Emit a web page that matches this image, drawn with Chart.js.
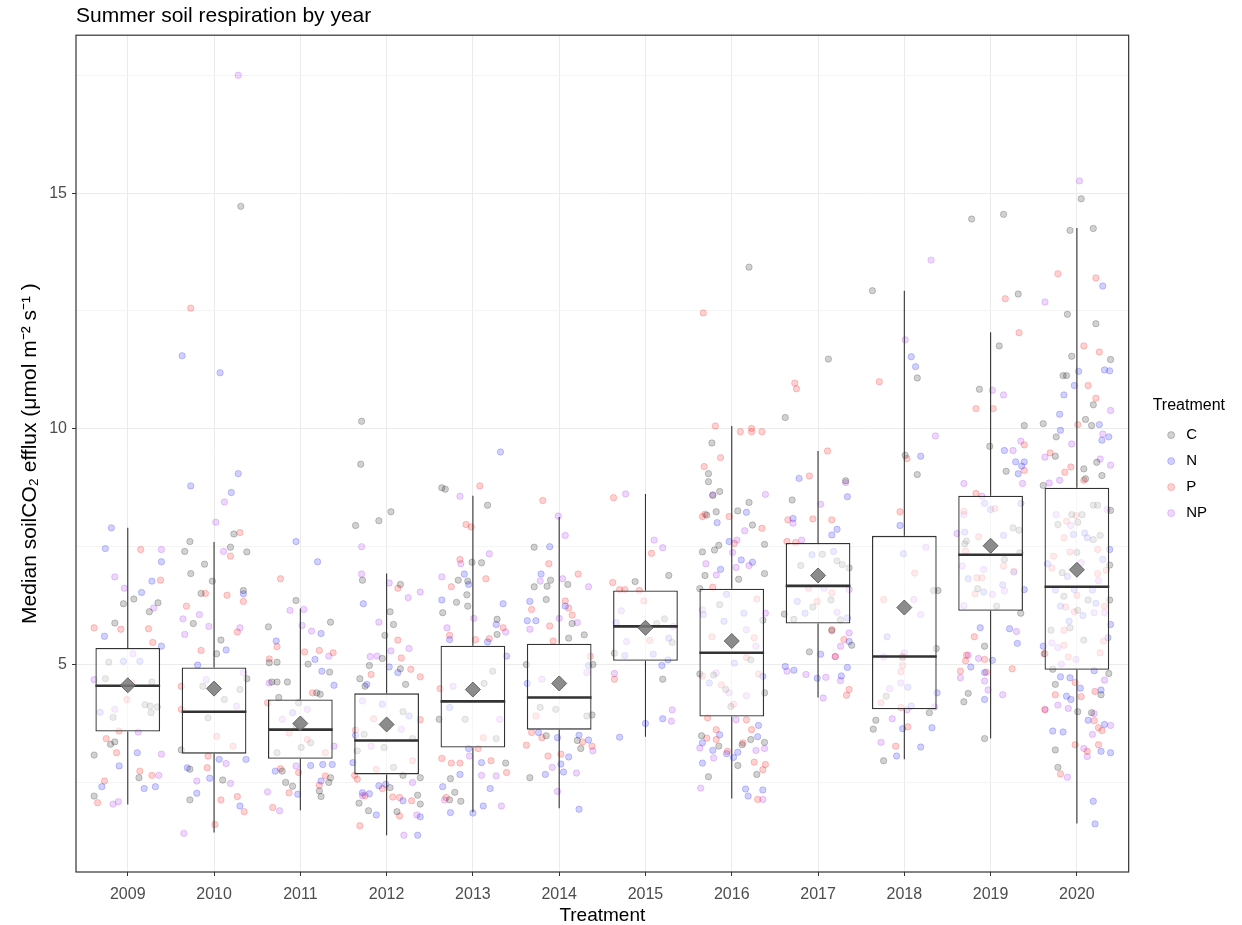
<!DOCTYPE html>
<html>
<head>
<meta charset="utf-8">
<script src="https://cdn.jsdelivr.net/npm/chart.js@4.4.0/dist/chart.umd.min.js"></script>
<style>
  html, body { margin: 0; padding: 0; background: #fff; }
  #wrap { width: 1242px; height: 925px; position: relative; }
</style>
</head>
<body>
<div id="wrap"><canvas id="chart"></canvas></div>
<script>
// ---- data ----
const years = ['2009', '2010', '2011', '2012', '2013', '2014', '2015', '2016', '2017', '2018', '2019', '2020'];

// box plot summaries (umol m-2 s-1)
const whiskerLo = [2.03, 1.44, 1.91, 1.38, 1.87, 1.95, 3.47, 2.16, 4.30, 2.99, 3.43, 1.63];
const q1        = [3.58, 3.11, 3.00, 2.67, 3.24, 3.62, 5.08, 3.90, 5.87, 4.05, 6.14, 4.89];
const medians   = [4.55, 4.00, 3.62, 3.39, 4.22, 4.30, 5.81, 5.25, 6.67, 5.17, 7.33, 6.65];
const q3        = [5.35, 4.94, 4.26, 4.39, 5.40, 5.44, 6.57, 6.61, 7.58, 7.73, 8.58, 8.75];
const whiskerHi = [7.90, 7.60, 6.19, 6.93, 8.58, 8.13, 8.62, 10.06, 9.53, 12.93, 12.05, 14.26];
const means     = [4.56, 4.49, 3.75, 3.73, 4.47, 4.60, 5.78, 5.50, 6.89, 6.21, 7.52, 7.01];

// jittered observations per treatment, one list per year: [jitter offset, value]
const obsC = [
  [[-0.05,6.29],[0.07,6.39],[-0.15,5.88],[0.25,6.12],[0.35,6.31],[-0.22,5.05],[-0.26,4.70],[-0.17,3.88],[0.20,4.15],[0.26,4.12],[0.34,4.10],[0.27,3.98],[-0.20,3.31],[-0.15,3.36],[-0.39,3.08],[0.13,2.60],[-0.39,2.21],[0.28,4.63]],
  [[0.31,14.72],[-0.28,7.61],[-0.34,7.40],[-0.27,6.93],[-0.11,7.13],[-0.02,6.77],[-0.15,6.51],[-0.24,5.87],[0.08,5.52],[0.03,5.23],[0.23,7.77],[0.19,7.49],[0.38,7.39],[0.34,6.57],[-0.28,2.78],[0.10,2.55],[-0.28,2.13],[-0.38,3.19],[-0.13,4.54],[-0.07,3.87],[0.12,4.26],[0.30,4.47],[0.38,4.70]],
  [[-0.05,6.36],[0.35,5.90],[0.09,5.01],[-0.37,5.80],[-0.36,5.04],[-0.27,5.05],[-0.33,4.63],[-0.27,4.63],[-0.15,4.63],[-0.25,4.30],[-0.02,4.19],[0.19,4.40],[0.23,4.37],[0.34,4.84],[0.12,3.34],[0.01,3.24],[-0.21,2.74],[-0.17,2.50],[-0.09,2.42],[0.22,2.32],[0.24,2.20],[0.33,2.50],[0.35,2.60],[-0.05,3.70],[-0.27,3.13]],
  [[-0.29,10.16],[-0.30,9.25],[-0.36,7.95],[-0.09,8.05],[0.05,8.24],[-0.28,6.79],[0.16,6.70],[0.04,6.12],[0.08,5.85],[-0.02,5.62],[-0.05,5.13],[-0.20,4.98],[-0.31,4.70],[-0.25,4.54],[0.16,4.91],[0.22,4.58],[0.19,4.00],[0.30,3.43],[-0.03,3.24],[-0.26,3.52],[-0.34,3.17],[0.08,2.82],[0.19,2.65],[0.39,2.60],[0.04,2.39],[0.36,2.23],[0.39,2.04],[-0.32,2.06],[-0.21,1.90],[0.12,1.88]],
  [[-0.36,8.75],[-0.32,8.72],[0.17,8.38],[-0.01,7.17],[0.10,7.16],[-0.17,6.79],[-0.06,6.77],[-0.07,6.48],[-0.19,6.32],[-0.06,6.24],[-0.35,6.10],[0.28,5.96],[0.28,5.64],[0.23,4.86],[0.13,4.60],[-0.09,3.84],[-0.39,3.84],[0.27,3.43],[0.38,2.91],[-0.21,2.29],[-0.27,2.13],[-0.14,2.10],[-0.26,2.58]],
  [[-0.29,7.49],[-0.29,6.65],[-0.15,6.38],[-0.10,6.79],[-0.14,6.66],[0.10,6.70],[0.15,5.87],[0.11,5.56],[0.29,5.63],[-0.38,5.00],[0.39,5.00],[0.38,3.93],[0.32,3.91],[0.25,3.22],[0.21,3.39],[-0.15,3.49],[-0.34,2.60],[-0.22,4.09],[-0.04,4.05]],
  [[-0.12,6.76],[0.27,6.89],[0.22,5.97],[0.13,5.87],[0.31,5.47],[-0.36,5.24],[0.20,4.69]],
  [[0.20,13.43],[-0.23,9.70],[-0.27,9.05],[-0.27,8.88],[-0.22,8.59],[-0.14,8.67],[-0.18,8.24],[-0.29,8.17],[0.07,8.26],[0.24,7.96],[0.20,8.44],[-0.15,7.53],[-0.20,7.43],[-0.34,7.39],[0.38,7.55],[-0.31,6.89],[0.08,6.81],[0.38,6.93],[-0.37,6.61],[0.36,5.94],[-0.14,6.27],[-0.37,4.80],[-0.21,4.78],[0.22,5.10],[0.38,4.40],[-0.35,3.49],[-0.15,3.27],[0.22,3.41],[0.38,3.35],[0.12,3.30],[0.07,2.86],[0.29,2.67],[-0.27,2.62],[-0.01,4.11],[-0.07,4.47]],
  [[0.12,11.48],[-0.38,10.24],[-0.30,8.49],[0.32,8.90],[0.05,7.34],[-0.20,7.10],[0.22,7.20],[0.28,7.12],[0.36,7.05],[0.15,6.37],[-0.06,6.22],[-0.28,5.96],[-0.39,6.07],[0.26,5.95],[0.16,5.72],[0.39,5.41],[-0.10,5.27]],
  [[-0.37,12.93],[0.15,11.08],[0.01,9.44],[0.15,9.03],[0.34,6.57],[0.39,6.57],[0.37,5.34],[-0.02,5.15],[-0.21,4.33],[-0.33,3.82],[-0.36,3.63],[0.29,3.98],[-0.24,2.96]],
  [[-0.22,14.45],[0.15,14.55],[0.32,12.86],[0.10,11.76],[-0.13,10.84],[0.39,10.07],[-0.01,9.63],[0.18,9.10],[0.26,7.90],[0.33,7.85],[-0.28,7.62],[-0.30,7.56],[0.16,7.23],[0.34,7.37],[-0.15,6.61],[0.07,6.24],[0.35,6.09],[-0.07,5.39],[-0.26,4.39],[-0.31,4.21],[-0.07,3.43]],
  [[-0.39,10.11],[0.05,14.88],[-0.08,14.21],[0.19,14.25],[-0.11,12.43],[0.22,12.23],[-0.06,11.54],[-0.16,11.13],[-0.12,11.13],[0.39,11.47],[0.19,10.51],[0.10,10.20],[0.17,10.07],[-0.24,9.83],[-0.25,9.42],[0.08,9.15],[0.29,9.01],[0.23,9.29],[-0.39,8.80],[0.10,8.94],[0.19,8.38],[0.24,8.38],[0.39,8.27],[-0.06,8.18],[0.06,8.18],[-0.22,7.97],[0.01,8.02],[0.27,7.74],[0.19,7.65],[0.00,7.38],[0.38,7.11],[-0.17,6.95],[-0.15,6.45],[0.01,6.15],[0.13,6.37],[0.38,6.37],[-0.30,5.73],[-0.08,5.78],[0.08,5.52],[-0.28,4.90],[0.37,4.81],[-0.25,4.58],[0.28,4.36],[0.01,4.00],[0.17,3.98],[-0.25,3.19],[-0.22,2.82],[-0.37,5.23]]
];
const obsN = [
  [[-0.19,7.90],[-0.26,7.46],[0.16,6.53],[0.28,6.77],[0.39,7.18],[-0.27,5.60],[0.39,5.39],[-0.10,2.85],[0.11,3.13],[-0.30,2.41],[0.19,2.37],[0.32,2.41],[-0.05,5.07],[0.14,5.07],[-0.32,3.99]],
  [[-0.27,8.79],[0.20,8.65],[0.14,5.31],[0.34,6.50],[-0.19,4.99],[-0.05,2.59],[-0.31,2.81],[-0.20,2.27],[0.30,2.00],[0.37,2.99],[0.06,2.99],[-0.37,11.55],[0.07,11.19],[0.28,9.05]],
  [[-0.05,7.61],[0.20,7.18],[-0.28,5.50],[0.24,5.66],[0.17,5.11],[0.25,4.86],[0.39,4.56],[-0.29,2.74],[0.26,2.88],[0.37,2.88],[-0.03,2.25],[0.24,2.53],[0.12,2.86],[-0.09,3.98]],
  [[-0.27,6.29],[0.13,4.83],[-0.23,4.58],[0.03,4.95],[-0.39,2.92],[-0.09,2.43],[-0.01,2.46],[0.19,2.11],[-0.12,1.81],[0.36,1.38],[0.39,1.77],[-0.20,2.26],[-0.28,2.28],[-0.36,3.50],[-0.05,4.16],[0.26,3.91]],
  [[0.32,9.51],[-0.10,6.92],[-0.05,6.70],[-0.36,6.37],[0.35,6.29],[0.27,5.85],[-0.27,5.53],[0.17,5.48],[0.39,5.18],[-0.05,3.22],[0.10,2.92],[0.20,2.37],[0.12,2.00],[0.00,1.85],[-0.35,2.41],[-0.26,1.86],[-0.15,2.67],[-0.27,4.09]],
  [[-0.11,7.50],[-0.21,6.92],[-0.34,6.34],[-0.37,5.93],[-0.27,5.93],[0.07,6.24],[0.34,4.98],[-0.37,4.60],[0.23,3.50],[0.34,3.40],[-0.02,3.45],[0.11,3.04],[0.02,2.89],[0.05,2.72],[-0.16,2.67],[0.23,1.93],[-0.24,3.56]],
  [[-0.34,5.89],[-0.24,5.19],[0.09,5.22],[0.27,5.56],[0.19,4.98],[0.26,5.10],[0.00,3.75],[0.20,3.85],[-0.30,3.46]],
  [[0.17,8.23],[-0.17,8.01],[-0.03,7.61],[0.11,7.22],[0.24,7.17],[-0.13,7.02],[-0.06,6.49],[0.14,6.09],[-0.09,5.92],[-0.33,6.06],[0.03,5.03],[0.36,4.75],[-0.26,4.61],[0.31,3.71],[-0.14,3.51],[0.30,3.47],[-0.34,3.34],[-0.22,3.18],[-0.06,3.11],[0.07,3.14],[0.02,3.03],[-0.34,2.91],[0.16,2.36],[0.19,2.21],[0.36,2.34]],
  [[-0.22,8.95],[0.34,8.56],[0.22,7.87],[0.16,7.75],[-0.29,8.10],[0.18,7.40],[-0.07,7.33],[-0.24,6.34],[-0.15,6.09],[0.34,5.99],[0.03,5.22],[0.36,5.49],[-0.38,4.96],[-0.28,4.88],[0.34,4.94],[-0.01,4.71],[0.27,4.76]],
  [[0.08,11.53],[0.13,11.32],[0.19,9.42],[-0.05,7.95],[-0.01,7.35],[-0.20,5.59],[0.04,4.52],[0.08,4.12],[0.38,4.40],[-0.02,3.64],[0.32,3.66],[0.19,3.25],[-0.09,3.06]],
  [[0.16,9.54],[0.29,9.30],[0.39,9.30],[0.36,9.21],[0.32,9.05],[-0.07,8.42],[0.00,8.29],[0.35,8.42],[-0.30,7.81],[0.15,7.74],[-0.26,6.82],[-0.08,6.54],[0.14,6.69],[0.27,6.96],[0.39,6.59],[-0.12,5.78],[0.22,5.76],[0.31,5.45],[-0.23,4.95],[-0.07,4.83],[0.02,5.09],[-0.07,4.26]],
  [[0.30,13.03],[0.02,11.22],[0.32,11.25],[0.38,11.23],[-0.03,10.92],[-0.15,10.72],[-0.20,10.31],[-0.19,9.97],[0.26,10.09],[0.37,9.83],[0.29,9.76],[0.09,7.79],[-0.04,7.76],[0.12,7.69],[0.38,7.44],[0.30,7.23],[-0.34,7.14],[-0.11,6.87],[-0.25,6.58],[-0.03,6.59],[0.18,6.58],[-0.19,6.24],[0.22,6.30],[-0.09,5.92],[0.07,6.04],[0.39,5.85],[0.36,5.57],[0.20,4.87],[-0.19,4.74],[-0.08,4.72],[0.04,4.50],[0.28,4.46],[-0.12,4.33],[-0.07,4.26],[0.13,3.82],[0.32,3.73],[-0.28,3.59],[-0.16,3.57],[0.28,3.16],[0.39,3.13],[0.19,2.10],[0.21,1.62],[-0.39,5.39]]
];
const obsP = [
  [[0.15,7.44],[0.38,6.79],[-0.39,5.78],[-0.08,5.75],[0.24,5.76],[0.29,5.47],[-0.25,3.43],[-0.13,3.13],[0.14,2.74],[0.28,2.65],[-0.27,2.53],[-0.35,2.07],[-0.10,3.59],[-0.01,4.26],[0.05,4.61]],
  [[-0.27,12.56],[0.30,7.80],[0.19,7.30],[0.15,6.47],[-0.32,6.24],[-0.10,6.51],[-0.15,5.30],[0.34,6.34],[0.27,5.69],[-0.38,4.54],[-0.38,4.05],[-0.07,3.06],[0.03,3.48],[-0.08,2.81],[0.27,2.20],[0.35,1.88],[0.01,1.61],[0.08,2.13],[0.22,3.27]],
  [[-0.23,6.82],[-0.36,5.12],[-0.27,5.38],[0.05,5.27],[0.22,5.30],[0.38,5.25],[0.14,4.40],[-0.13,3.55],[-0.02,2.71],[-0.23,2.79],[-0.32,1.97],[-0.13,2.28],[0.22,2.44],[0.29,2.64],[-0.38,4.19],[0.29,3.13],[0.08,3.41]],
  [[0.13,6.62],[0.13,5.52],[0.17,5.14],[0.28,4.90],[0.39,4.74],[-0.18,4.79],[-0.36,3.61],[-0.15,3.85],[0.39,3.83],[-0.37,2.65],[-0.34,2.57],[-0.05,2.37],[0.07,2.19],[0.15,2.18],[0.29,2.11],[-0.31,1.58],[0.15,1.79],[-0.25,2.22],[-0.12,2.78],[0.30,2.96]],
  [[0.08,8.79],[-0.08,7.97],[-0.02,7.92],[-0.15,7.23],[0.15,6.82],[-0.25,6.65],[-0.27,5.62],[0.03,5.53],[0.19,5.55],[0.35,5.78],[-0.38,4.49],[-0.25,2.91],[-0.15,2.91],[-0.36,3.01],[0.21,2.96],[0.39,2.71],[0.06,3.22],[-0.31,2.18],[0.12,3.45]],
  [[-0.19,8.48],[-0.12,7.14],[-0.32,6.17],[0.22,6.92],[0.07,6.35],[0.11,6.20],[0.15,6.05],[-0.11,5.82],[-0.07,5.50],[0.36,5.18],[-0.32,3.56],[-0.20,3.45],[0.27,3.36],[0.38,3.27],[-0.38,3.29],[-0.13,3.06],[0.02,3.10],[-0.27,3.91]],
  [[-0.37,8.54],[0.07,7.36],[-0.38,6.74],[-0.30,6.59],[-0.24,6.59],[-0.07,6.57],[-0.02,6.35],[0.05,5.51],[-0.36,4.69]],
  [[-0.33,12.46],[-0.19,10.06],[0.10,9.94],[0.23,9.94],[0.23,10.01],[0.35,9.94],[-0.13,9.39],[-0.32,9.20],[-0.34,8.14],[-0.31,8.19],[-0.03,8.14],[0.35,7.89],[0.03,7.57],[-0.22,6.64],[0.29,6.39],[-0.23,5.59],[0.26,5.57],[0.17,5.15],[0.31,4.80],[-0.34,4.76],[-0.12,4.57],[0.02,4.16],[-0.28,3.87],[0.17,3.83],[-0.18,3.62],[0.23,3.62],[-0.05,3.16],[0.13,3.34],[0.26,2.93],[0.36,2.77],[0.39,2.88],[0.30,2.14],[-0.29,3.44],[-0.18,3.41]],
  [[-0.27,10.97],[-0.25,10.85],[0.11,9.53],[-0.10,9.00],[-0.35,8.07],[-0.06,8.09],[0.16,8.07],[-0.36,7.61],[-0.26,7.59],[-0.01,6.34],[0.16,6.52],[0.16,5.74],[0.30,5.53],[0.20,5.17],[0.36,4.47],[0.33,4.35],[-0.11,6.62]],
  [[-0.29,11.00],[0.03,9.37],[-0.05,8.24],[0.12,6.94],[-0.24,6.38],[-0.02,4.98],[-0.04,4.85],[-0.27,4.19],[-0.04,4.09],[0.04,3.68],[-0.10,3.27],[-0.02,5.18]],
  [[0.17,12.76],[0.33,12.04],[-0.17,10.43],[0.03,10.43],[0.39,9.66],[0.39,9.12],[-0.17,8.63],[-0.31,8.25],[0.05,8.31],[-0.14,7.71],[-0.29,7.41],[0.15,7.09],[0.27,6.98],[-0.16,6.84],[-0.10,6.84],[-0.18,6.50],[-0.19,5.59],[-0.28,5.20],[-0.29,5.08],[-0.35,4.86],[-0.07,5.11],[-0.05,4.84],[0.25,4.91]],
  [[-0.22,13.29],[0.22,13.20],[0.08,11.76],[0.26,11.63],[0.13,10.92],[0.22,10.65],[0.01,10.09],[-0.31,9.49],[-0.07,9.19],[-0.14,9.08],[0.08,8.91],[-0.12,8.04],[-0.01,8.16],[-0.15,7.69],[-0.27,7.30],[0.24,7.44],[-0.08,7.39],[-0.29,7.05],[0.34,7.00],[0.24,6.93],[0.00,6.47],[-0.13,6.22],[-0.03,6.12],[0.32,6.24],[-0.15,5.73],[-0.15,5.41],[0.31,5.50],[-0.10,5.16],[0.27,5.25],[-0.38,5.23],[-0.02,4.62],[-0.25,4.36],[0.05,4.32],[0.21,4.43],[-0.37,4.04],[0.20,3.81],[0.25,3.66],[0.29,3.60],[-0.02,3.30],[0.12,3.16],[0.25,3.30],[-0.19,2.68]]
];
const obsNP = [
  [[-0.15,6.86],[-0.04,6.62],[0.39,7.44],[0.30,6.20],[0.39,3.10],[0.36,2.65],[-0.17,2.04],[-0.11,2.09],[0.12,3.57],[-0.39,4.68],[-0.15,4.05],[0.06,5.23]],
  [[0.28,17.50],[0.12,8.45],[0.02,8.02],[0.11,7.40],[-0.36,5.97],[-0.34,5.64],[-0.17,6.06],[-0.06,5.81],[0.30,5.78],[-0.35,1.42],[-0.20,2.53],[0.19,2.48],[0.14,2.90],[-0.09,4.68],[0.34,4.83],[0.26,4.12]],
  [[-0.12,6.15],[0.04,6.17],[0.13,5.71],[0.02,5.83],[0.33,5.18],[0.39,3.27],[-0.38,2.30],[-0.24,1.90],[-0.05,2.85],[-0.36,4.61],[0.08,4.05],[-0.21,3.84]],
  [[-0.29,7.50],[-0.29,6.92],[-0.09,5.90],[0.03,6.73],[0.25,6.42],[0.39,6.54],[0.26,5.34],[-0.19,5.17],[-0.11,5.18],[0.05,5.29],[0.30,2.50],[0.35,1.81],[0.20,1.38],[-0.28,2.22],[-0.18,3.27],[0.17,3.63],[-0.28,4.23]],
  [[-0.15,8.57],[0.19,7.35],[-0.14,7.14],[-0.36,6.86],[0.01,5.98],[-0.30,5.78],[0.38,5.69],[0.27,2.64],[0.33,2.00],[-0.33,2.13],[0.10,2.65],[-0.04,3.06],[-0.23,4.54],[0.31,3.84]],
  [[-0.01,8.15],[0.07,7.74],[-0.22,6.77],[0.04,6.82],[0.34,6.65],[0.00,5.98],[0.21,5.89],[-0.34,5.75],[0.32,4.83],[0.39,3.17],[-0.08,2.82],[0.20,2.70],[-0.02,2.31],[-0.20,4.69]],
  [[-0.23,8.62],[0.10,7.64],[0.20,7.48],[-0.28,6.14],[-0.22,5.49],[-0.36,4.81],[0.31,4.04],[0.30,3.80],[0.32,5.81]],
  [[0.39,8.61],[-0.22,8.60],[0.15,7.84],[0.01,7.38],[0.06,7.64],[-0.30,7.14],[0.20,7.10],[-0.18,6.90],[0.05,7.06],[0.39,6.09],[-0.34,6.16],[0.17,5.74],[0.28,5.39],[-0.18,4.82],[0.17,4.34],[0.05,3.83],[-0.37,3.23],[-0.21,3.02],[0.28,3.18],[0.38,3.22],[-0.36,2.38],[0.36,2.14],[-0.03,4.40]],
  [[0.32,8.86],[0.03,8.40],[-0.29,8.00],[-0.19,7.64],[0.07,6.62],[0.36,6.59],[0.22,6.11],[0.36,5.67],[0.26,5.39],[-0.36,4.86],[-0.14,4.79],[0.09,4.73],[0.26,4.66],[0.06,4.29],[0.20,5.17]],
  [[0.31,13.58],[0.01,11.89],[0.36,9.85],[0.25,7.49],[0.11,6.38],[0.19,6.06],[-0.24,5.16],[-0.04,4.61],[-0.17,4.49],[0.35,4.10],[0.03,4.04],[-0.14,3.85],[-0.27,3.35],[0.00,5.25]],
  [[0.02,10.82],[0.15,10.72],[0.35,9.74],[0.26,9.54],[-0.31,8.84],[0.37,8.84],[-0.10,8.57],[-0.31,8.18],[-0.39,7.78],[-0.33,7.09],[-0.08,7.02],[0.02,6.49],[-0.31,6.25],[0.16,6.56],[-0.26,5.20],[-0.14,5.13],[-0.35,4.72],[-0.07,4.65],[-0.03,4.46],[0.14,4.36],[0.30,5.70]],
  [[0.03,15.26],[-0.37,12.69],[-0.06,9.68],[-0.37,9.40],[-0.20,8.91],[-0.32,8.85],[0.30,9.89],[0.39,10.39],[0.27,9.36],[0.39,9.23],[-0.24,8.18],[0.35,8.29],[-0.07,7.95],[0.05,7.16],[0.25,6.78],[0.32,6.10],[0.20,6.10],[-0.29,5.46],[-0.22,5.36],[-0.01,5.11],[-0.18,5.01],[0.32,4.67],[-0.22,4.14],[-0.10,4.07],[0.20,3.96],[-0.37,4.05],[0.18,3.52],[0.39,3.71],[0.08,3.22],[0.12,3.05],[-0.11,2.61]]
];

const treatments = ['C', 'N', 'P', 'NP'];
const treatmentObs = [obsC, obsN, obsP, obsNP];
const treatmentColors = ['0,0,0', '0,0,255', '255,0,0', '160,32,240'];

// ---- build datasets ----
const FONT = "'Liberation Sans', Arial, sans-serif";
const halfBox = 0.375;

function toPoints(byYear) {
  const out = [];
  byYear.forEach((list, i) => list.forEach(([dx, v]) => out.push({x: i + dx, y: v})));
  return out;
}

const whiskerPts = [];
const medianPts = [];
years.forEach((y, i) => {
  whiskerPts.push({x: i, y: whiskerLo[i]}, {x: i, y: q1[i]}, {x: i, y: null});
  whiskerPts.push({x: i, y: q3[i]}, {x: i, y: whiskerHi[i]}, {x: i, y: null});
  medianPts.push({x: i - halfBox, y: medians[i]}, {x: i + halfBox, y: medians[i]}, {x: i, y: null});
});

const pointSets = treatments.map((t, k) => ({
  type: 'scatter',
  label: t,
  data: toPoints(treatmentObs[k]),
  pointRadius: 3.2,
  pointBorderWidth: 1,
  backgroundColor: 'rgba(' + treatmentColors[k] + ',0.18)',
  borderColor: 'rgba(' + treatmentColors[k] + ',0.2)',
  order: 10 + k
}));

const panelBorder = {
  id: 'panelBorder',
  afterDatasetsDraw(chart) {
    const {ctx, chartArea: a} = chart;
    ctx.save();
    ctx.strokeStyle = '#333333';
    ctx.lineWidth = 1.2;
    ctx.strokeRect(a.left, a.top, a.right - a.left, a.bottom - a.top);
    ctx.restore();
  }
};

// let the legend title run past the narrow legend box
const legendRoom = {
  id: 'legendRoom',
  beforeDraw(chart) {
    const lg = chart.legend;
    if (lg) {
      lg.right = chart.width;
      lg.width = lg.right - lg.left;
    }
  }
};

new Chart(document.getElementById('chart'), {
  type: 'bar',
  data: {
    datasets: [
      {
        type: 'scatter',
        label: 'mean',
        data: years.map((y, i) => ({x: i, y: means[i]})),
        pointStyle: 'rectRot',
        pointRadius: 7.5,
        backgroundColor: 'rgba(120,120,120,0.85)',
        borderColor: 'rgba(90,90,90,0.9)',
        pointBorderWidth: 1,
        order: 1
      },
      {
        type: 'line',
        label: 'median',
        data: medianPts,
        borderColor: '#333333',
        borderWidth: 2.6,
        pointRadius: 0,
        spanGaps: false,
        order: 2
      },
      {
        type: 'bar',
        label: 'box',
        data: years.map((y, i) => ({x: i, y: [q1[i], q3[i]]})),
        backgroundColor: 'rgba(255,255,255,0.55)',
        borderColor: '#333333',
        borderWidth: 1.3,
        borderSkipped: false,
        barPercentage: 0.75,
        categoryPercentage: 1,
        order: 3
      },
      {
        type: 'line',
        label: 'whisker',
        data: whiskerPts,
        borderColor: '#333333',
        borderWidth: 1.1,
        pointRadius: 0,
        spanGaps: false,
        order: 4
      },
      ...pointSets
    ]
  },
  options: {
    responsive: true,
    maintainAspectRatio: false,
    animation: false,
    events: [],
    layout: { padding: { left: 18, right: 25, top: 0, bottom: -8 } },
    scales: {
      x: {
        type: 'linear',
        min: -0.6,
        max: 11.6,
        offset: false,
        border: { display: false },
        grid: {
          offset: false,
          color: '#ebebeb',
          lineWidth: 1,
          tickLength: 4,
          tickColor: '#333333'
        },
        ticks: {
          stepSize: 1,
          includeBounds: false,
          autoSkip: false,
          maxRotation: 0,
          padding: 11,
          color: '#4d4d4d',
          font: { family: FONT, size: 16, lineHeight: 1.0 },
          callback: v => years[v] ?? ''
        },
        title: {
          display: true,
          text: 'Treatment',
          color: '#000',
          font: { family: FONT, size: 19, lineHeight: 1.0 },
          padding: { top: -8, bottom: 8 }
        }
      },
      y: {
        type: 'linear',
        min: 0.6,
        max: 18.35,
        border: { display: false },
        grid: {
          color: c => (c.tick && c.tick.value % 5 === 0) ? '#ebebeb' : '#f4f4f4',
          lineWidth: 1,
          tickLength: 4,
          tickColor: c => (c.tick && c.tick.value % 5 === 0) ? '#333333' : 'rgba(0,0,0,0)'
        },
        ticks: {
          stepSize: 2.5,
          includeBounds: false,
          padding: 5,
          color: '#4d4d4d',
          font: { family: FONT, size: 16 },
          callback: v => (v % 5 === 0 ? String(v) : '')
        },
        title: {
          display: true,
          text: 'Median soilCO\u2082 efflux (\u03bcmol m\u207b\u00b2 s\u207b\u00b9 )',
          color: '#000',
          font: { family: FONT, size: 21 },
          padding: { top: 0, bottom: 1 }
        }
      },
      // empty spacer between the panel and the legend
      gap: {
        type: 'linear',
        position: 'right',
        display: true,
        grid: { display: false },
        border: { display: false },
        ticks: { display: false },
        afterFit: s => { s.width = 24; }
      }
    },
    plugins: {
      tooltip: { enabled: false },
      title: {
        display: true,
        text: 'Summer soil respiration by year',
        align: 'start',
        fullSize: false,
        color: '#000',
        font: { family: FONT, size: 21, weight: 'normal' },
        padding: { top: 4, bottom: 6 }
      },
      legend: {
        position: 'right',
        align: 'center',
        labels: {
          filter: item => treatments.includes(item.text),
          usePointStyle: true,
          pointStyle: 'circle',
          boxWidth: 15,
          boxHeight: 5,
          padding: 11,
          color: '#000',
          font: { family: FONT, size: 15 }
        },
        title: {
          display: true,
          text: 'Treatment',
          position: 'start',
          color: '#000',
          font: { family: FONT, size: 16 },
          padding: { top: -4, bottom: 0 }
        }
      }
    }
  },
  plugins: [panelBorder, legendRoom]
});
</script>
</body>
</html>
